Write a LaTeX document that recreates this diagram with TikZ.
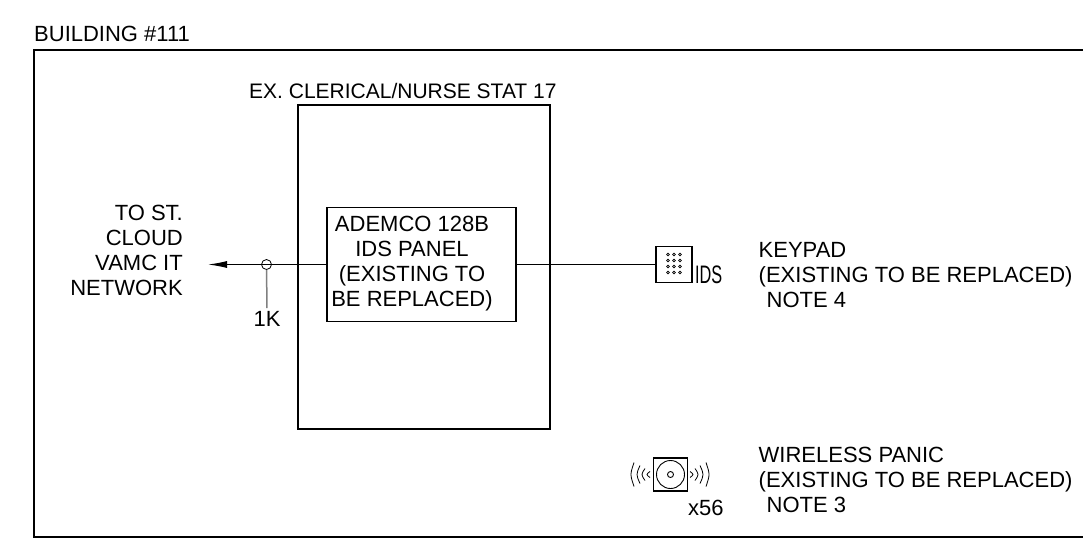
\documentclass[tikz,border=0pt]{standalone}
\usepackage{fontspec}
\setmainfont{Liberation Sans}
\usetikzlibrary{arrows.meta,positioning}
\begin{document}
\begin{tikzpicture}[
    x=1pt,y=-1pt,
    >=Stealth,
    lbl/.style={font=\fontsize{22}{25}\selectfont,inner sep=0pt,align=left,anchor=west},
    box/.style={draw=black,line width=1.1pt,inner sep=0pt},
    wire/.style={draw=black,line width=1.1pt},
    wave/.style={draw=black,line width=0.8pt}
]
\useasboundingbox (0,0) rectangle (1083,539);
% Building
\node[box,minimum width=1056pt,minimum height=487pt] (bldg) at (562,293.5) {};
\node[lbl] (bldgtxt) at (34,33.5) {BUILDING \#111};
% Station and panel
\node[box,minimum width=252pt,minimum height=324pt] (stat) at (424,267) {};
\node[lbl,font=\fontsize{21}{25}\selectfont] (stattxt) at (249,90.5) {EX. CLERICAL/NURSE STAT 17};
\node[box,minimum width=189pt,minimum height=114pt] (panel) at (421.5,264.5) {};
\node[lbl,anchor=center,align=center] (paneltxt) at (412,263.5) {ADEMCO 128B\\IDS PANEL\\(EXISTING TO\\BE REPLACED)};
% Network
\node[lbl,anchor=east,align=right] (net) at (183,250.5) {TO ST.\\CLOUD\\VAMC IT\\NETWORK};
\coordinate (nettip) at (208,264.5);
\node[circle,draw=black,line width=0.8pt,minimum size=10pt,inner sep=0pt] (tap) at (266.5,264.5) {};
\node[lbl,anchor=center] (tag) at (267,319) {1K};
\draw[wire,-{Latex[length=19pt,width=7pt]}] (panel.west |- tap) -- (nettip);
\draw[draw=black!50,line width=1.5pt,shorten >=3pt] (tap) -- (tag.north);
% Keypad
\node[box,minimum width=36pt,minimum height=36pt] (keypad) at (674,264.5) {};
\foreach \r in {0,1,2,3}
  \foreach \c in {0,1,2}
    \draw[line width=0.6pt] (668+6*\c,254.5+6*\r) circle (1.4pt);
\node[lbl,anchor=south west] (idstxt) at (695,284) {\scalebox{0.74}[1.15]{IDS}};
\draw[wire] (panel.east) -- (keypad.west);
\node[lbl] (keytxt) at (758.5,275) {KEYPAD\\(EXISTING TO BE REPLACED)\\\hspace*{8pt}NOTE 4};
% Wireless panic
\node[box,minimum width=34pt,minimum height=33pt] (panic) at (670.5,474.5) {};
\node[circle,draw=black,line width=0.9pt,minimum size=28pt,inner sep=0pt] (disc) at (panic) {};
\node[circle,draw=black,line width=0.9pt,minimum size=6pt,inner sep=0pt] (hub) at (panic) {};
\foreach \rr/\hh in {22/3,27/6,32/9,38/12}{
  \draw[wave] (670-\rr+2,474.5-\hh) .. controls (670-\rr-2,474.5) .. (670-\rr+2,474.5+\hh);
  \draw[wave] (670+\rr-2,474.5-\hh) .. controls (670+\rr+2,474.5) .. (670+\rr-2,474.5+\hh);
}
\node[lbl] (qty) at (688,508) {x56};
\node[lbl] (paniccaption) at (758.5,480) {WIRELESS PANIC\\(EXISTING TO BE REPLACED)\\\hspace*{8pt}NOTE 3};
\end{tikzpicture}
\end{document}
